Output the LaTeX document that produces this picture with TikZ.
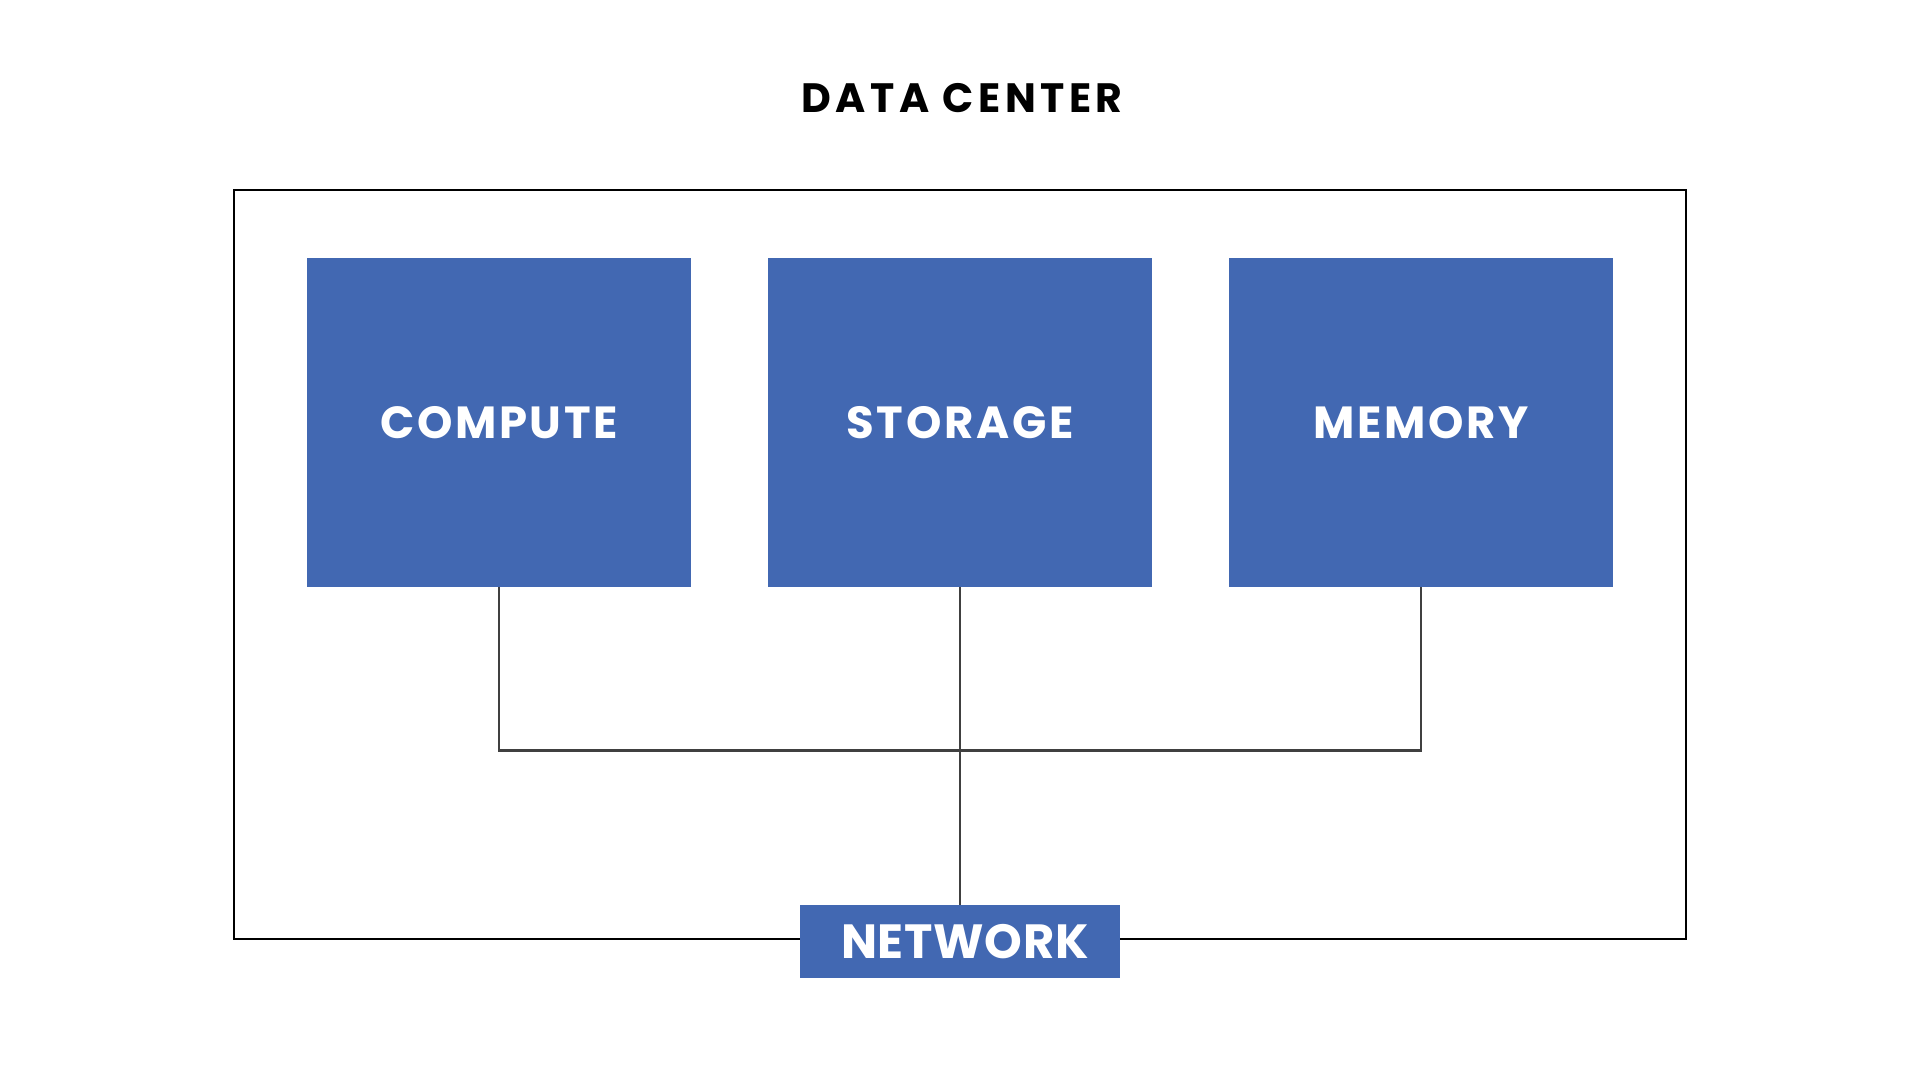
\documentclass[tikz,border=0pt]{standalone}
\usepackage{fontspec}
\setmainfont{Poppins}
\newfontfamily\titlefont{Poppins Bold}[LetterSpace=11]
\newfontfamily\boxfont{Poppins Bold}[LetterSpace=6]
\newfontfamily\netfont{Poppins Bold}[LetterSpace=1.5]
\definecolor{boxblue}{HTML}{4268B2}
\definecolor{wire}{HTML}{404040}
\tikzset{
  unit/.style={draw=none, fill=boxblue, text=white, font=\boxfont\fontsize{22.5}{26}\selectfont, inner sep=0pt, minimum width=191.75pt, minimum height=164pt},
  netbox/.style={draw=none, fill=boxblue, text=white, font=\netfont\fontsize{24}{28}\selectfont, inner sep=0pt, minimum width=160pt, minimum height=36.4pt},
  wireline/.style={draw=wire, line width=1.35pt},
  frame/.style={draw=black, line width=1.15pt}
}
\begin{document}
\begin{tikzpicture}[x=0.5pt,y=-0.5pt]
\useasboundingbox[fill=white] (0,0) rectangle (1920,1080);
\node[font=\titlefont\fontsize{20.5}{24}\selectfont] (title) at (962,98) {DATA CENTER};
\coordinate (tl) at (234,190);
\coordinate (br) at (1686,939);
\draw[frame] (tl) rectangle (br);
\node[unit] (compute) at (499,422.5) {COMPUTE};
\node[unit] (storage) at (960,422.5) {STORAGE};
\node[unit] (memory) at (1421,422.5) {MEMORY};
\coordinate (bus) at (960,750.4);
\node[netbox] (network) at (960,941.3) {\hspace*{5pt}NETWORK};
\draw[wireline] (compute.south) |- (bus) -| (memory.south);
\draw[wireline] (storage.south) -- (network.north);
\end{tikzpicture}
\end{document}
